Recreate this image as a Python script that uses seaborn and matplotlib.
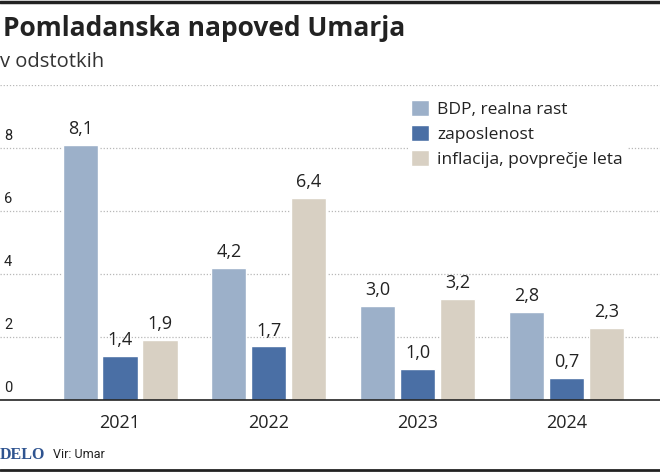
import numpy as np
import pandas as pd
import matplotlib.pyplot as plt
import seaborn as sns
from matplotlib.lines import Line2D

# Data
# --------------
years = ["2021", "2022", "2023", "2024"]
series = ["BDP, realna rast", "zaposlenost", "inflacija, povprečje leta"]
bdp = [8.1, 4.2, 3.0, 2.8]
zaposlenost = [1.4, 1.7, 1.0, 0.7]
inflacija = [1.9, 6.4, 3.2, 2.3]
y_ticks = [0, 2, 4, 6, 8]
colors = ["#9cb0c9", "#4a6fa5", "#d8d0c3"]

df = pd.DataFrame({
    "leto": years * 3,
    "serija": [series[0]] * 4 + [series[1]] * 4 + [series[2]] * 4,
    "vrednost": bdp + zaposlenost + inflacija,
})

# Set-up
# --------------
sns.set_theme(style="white")
plt.rcParams["font.family"] = ["Open Sans", "DejaVu Sans"]
narrow = ["Liberation Sans Narrow", "Roboto", "DejaVu Sans"]

fig = plt.figure(figsize=(6.6, 4.72), dpi=100)
ax = fig.add_axes([0, 72 / 472, 1, 315 / 472])

sns.barplot(data=df, x="leto", y="vrednost", hue="serija", hue_order=series,
            palette=colors, width=0.805, gap=0.12, ax=ax, saturation=1,
            legend=True)

ax.set_xlim(-0.807, 3.63)
ax.set_ylim(0, 10)
ax.set_xlabel("")
ax.set_ylabel("")
ax.set_yticks([])
for y in [2, 4, 6, 8, 10]:
    ax.axhline(y, color="#b8b8b8", lw=0.9, ls=(0, (1, 1.5)), zorder=0)
for y in y_ticks:
    ax.text(0.006, y + 0.16, str(y), transform=ax.get_yaxis_transform(),
            fontsize=10.5, family=narrow, color="#222222", va="bottom", ha="left")

for s in ["top", "right", "left"]:
    ax.spines[s].set_visible(False)
ax.spines["bottom"].set_color("#222222")
ax.spines["bottom"].set_linewidth(1.2)
ax.tick_params(axis="x", length=0, pad=10, labelsize=13, labelcolor="#222222")

for c in ax.containers:
    ax.bar_label(c, labels=[f"{v:.1f}".replace(".", ",") for v in c.datavalues],
                 padding=5, fontsize=13, color="#222222")

leg = ax.legend(loc="upper left", bbox_to_anchor=(0.605, 0.99), frameon=True,
                fontsize=12.5, handlelength=1.0, handleheight=1.0,
                handletextpad=0.5, labelspacing=0.42, borderpad=0.2)
leg.get_frame().set_facecolor("white")
leg.get_frame().set_edgecolor("none")
leg.get_frame().set_alpha(1)
for t in leg.get_texts():
    t.set_color("#222222")

# Titles and footer
fig.text(0.005, 1 - 28 / 472, "Pomladanska napoved Umarja", fontsize=19,
         fontweight="bold", color="#222222", va="center", ha="left")
fig.text(0.0, 1 - 62 / 472, "v odstotkih", fontsize=14.5, color="#333333",
         va="center", ha="left")
fig.text(0.0, 1 - 455 / 472, "DELO", fontsize=11.5, fontweight="bold",
         family=["Liberation Serif", "DejaVu Serif"], color="#2f5490",
         va="center", ha="left")
fig.text(53 / 660, 1 - 455 / 472, "Vir: Umar", fontsize=9, family=narrow,
         color="#222222", va="center", ha="left")

fig.add_artist(Line2D([0, 1], [1 - 1.5 / 472] * 2, color="#222222", lw=2.5))
fig.add_artist(Line2D([0, 1], [1 - 469.5 / 472] * 2, color="#222222", lw=2))

fig.savefig("out.png", dpi=100)
